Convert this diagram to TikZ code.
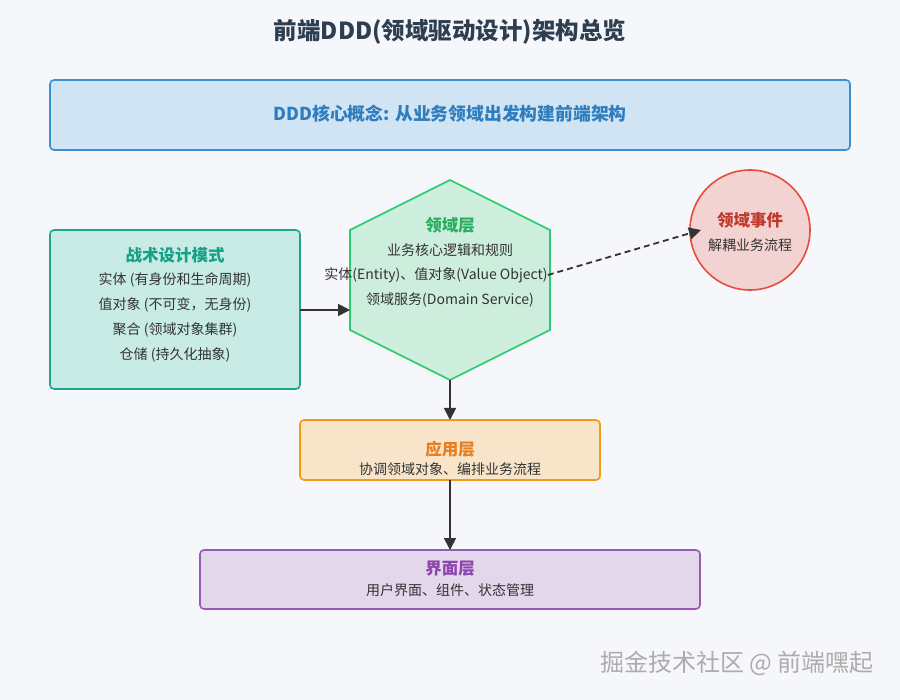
\documentclass[tikz,border=0pt]{standalone}
\usepackage{fontspec}
\setmainfont{Noto Sans CJK SC}
\usetikzlibrary{arrows.meta,shapes.geometric}
\definecolor{bg}{HTML}{F5F7FA}
\definecolor{ttl}{HTML}{2C3E50}
\definecolor{txt}{HTML}{333333}
\definecolor{blueB}{HTML}{3A8FD0}\definecolor{blueF}{HTML}{D0E4F3}\definecolor{blueT}{HTML}{2E7DBF}
\definecolor{tealB}{HTML}{1FA58A}\definecolor{tealF}{HTML}{C8ECE5}\definecolor{tealT}{HTML}{16A085}
\definecolor{grnB}{HTML}{2ECC71}\definecolor{grnF}{HTML}{CDEEDD}\definecolor{grnT}{HTML}{27AE60}
\definecolor{redB}{HTML}{E74C3C}\definecolor{redF}{HTML}{F3D3D1}\definecolor{redT}{HTML}{C0392B}
\definecolor{orgB}{HTML}{F39C12}\definecolor{orgF}{HTML}{F8E5C9}\definecolor{orgT}{HTML}{E67E22}
\definecolor{purB}{HTML}{9B59B6}\definecolor{purF}{HTML}{E3D7EC}\definecolor{purT}{HTML}{8E44AD}
\definecolor{arr}{HTML}{333333}
\tikzset{
  boxstyle/.style={draw=#1B,fill=#1F,line width=1.6pt,rounded corners=4pt},
  hd/.style={font=\bfseries\fontsize{16.5}{19}\selectfont,text=#1,inner sep=0pt},
  ln/.style={font=\fontsize{14}{16}\selectfont,text=txt,inner sep=0pt},
  conn/.style={draw=arr,line width=1.8pt,-{Triangle[length=12pt,width=12pt]}},
}
\begin{document}
\begin{tikzpicture}[x=1pt,y=-1pt]
\useasboundingbox (0,0) rectangle (900,700);
\fill[bg] (0,0) rectangle (900,700);
% title
\node[font=\bfseries\fontsize{23.5}{27}\selectfont,text=ttl,inner sep=0pt] (title) at (450,32) {前端DDD(领域驱动设计)架构总览};
% concept box
\draw[boxstyle=blue] (50,80) rectangle (850,150);
\node[font=\bfseries\fontsize{17.8}{21}\selectfont,text=blueT,inner sep=0pt] (concept) at (450,114) {DDD核心概念: 从业务领域出发构建前端架构};
% tactical box
\draw[boxstyle=teal] (50,230) rectangle (300,389);
\coordinate (tacR) at (300,310);
\node[hd=tealT] (tacT) at (175,255) {战术设计模式};
\node[ln] (tac1) at (175,280) {实体 (有身份和生命周期)};
\node[ln] (tac2) at (175,305) {值对象 (不可变，无身份)};
\node[ln] (tac3) at (175,330) {聚合 (领域对象集群)};
\node[ln] (tac4) at (175,355) {仓储 (持久化抽象)};
% hexagon
\draw[draw=grnB,fill=grnF,line width=1.6pt] (450,180) -- (550,230) -- (550,330) -- (450,380) -- (350,330) -- (350,230) -- cycle;
\coordinate (hexL) at (350,310);
\coordinate (hexB) at (450,380);
\node[hd=grnT] (domT) at (450,225) {领域层};
\node[ln] (dom1) at (450,250) {业务核心逻辑和规则};
\node[ln] (dom2) at (436,275) {实体(Entity)、值对象(Value Object)};
\node[ln] (dom3) at (450,300) {领域服务(Domain Service)};
% event circle
\node[circle,draw=redB,fill=redF,line width=1.6pt,minimum size=120pt,inner sep=0pt] (evt) at (750,230) {};
\coordinate (evtIn) at (701,230);
\node[hd=redT] (evtT) at (750,220) {领域事件};
\node[ln] (evt1) at (750,245) {解耦业务流程};
% app box
\draw[boxstyle=org] (300,420) rectangle (600,480);
\coordinate (appT) at (450,420);
\coordinate (appB) at (450,480);
\node[hd=orgT] (appH) at (450,449) {应用层};
\node[ln] (app1) at (450,469) {协调领域对象、编排业务流程};
% ui box
\draw[boxstyle=pur] (200,550) rectangle (700,609);
\coordinate (uiT) at (450,550);
\node[hd=purT] (uiH) at (450,569) {界面层};
\node[ln] (ui1) at (450,590) {用户界面、组件、状态管理};
% connectors
\draw[conn] (tacR) -- (hexL);
\draw[conn] (hexB) -- (appT);
\draw[conn] (appB) -- (uiT);
\draw[draw=arr,line width=1.8pt,dash pattern=on 6pt off 4pt,-{Triangle[length=12pt,width=12pt]}] (dom2.east) -- (evtIn);
% watermark
\node[font=\fontsize{24}{28}\selectfont,text=gray!65,inner sep=0pt] (wm) at (737,663) {掘金技术社区 @ 前端嘿起};
\end{tikzpicture}
\end{document}
